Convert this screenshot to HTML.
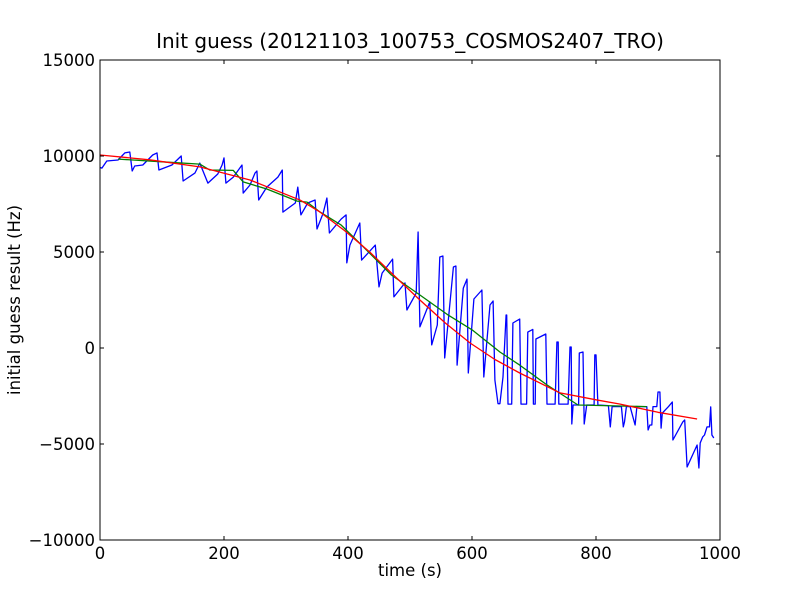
<!DOCTYPE html>
<html><head><meta charset="utf-8"><style>
body{margin:0;background:#fff;}
svg text{font-family:"DejaVu Sans","Liberation Sans",sans-serif;fill:#000;}
</style></head><body>
<svg id="chart" width="800" height="600" xmlns="http://www.w3.org/2000/svg">
<rect width="800" height="600" fill="#fff"/>
<text x="410" y="48" font-size="20" text-anchor="middle">Init guess (20121103_100753_COSMOS2407_TRO)</text>
<text x="410" y="576" font-size="16.5" text-anchor="middle">time (s)</text>
<text x="20" y="300" font-size="16.5" text-anchor="middle" transform="rotate(-90 20 300)">initial guess result (Hz)</text>
<g id="series"></g>
<g id="axes"></g>
</svg>
<script>
const xTicks=[0,200,400,600,800,1000];
const yTicks=[-10000,-5000,0,5000,10000,15000];
const yTickLabels=["\u221210000","\u22125000","0","5000","10000","15000"];
const blueT=[0,3,11,29,40,48,52,56,69,85,92,95,116,131,134,153,161,174,190,197,200,203,215,229,231,242,250,253,256,269,287,294,295,315,319,324,335,347,350,360,366,370,389,397,398,403,419,422,444,450,455,472,474,492,495,510,513,516,532,535,544,548,553,556,570,574,576,586,592,594,603,616,619,629,634,637,642,645,650,655,656,658,664,666,677,679,688,690,698,699,702,703,719,721,734,737,739,740,755,758,760,761,763,772,773,779,781,785,797,798,800,803,820,823,826,841,844,846,849,855,863,866,882,884,887,890,892,898,900,903,905,907,917,923,924,940,943,947,963,966,968,972,975,979,983,985,987,990];
const blueV=[9400,9370,9740,9790,10160,10210,9220,9480,9530,10050,10160,9270,9530,10000,8700,9110,9630,8590,9060,9530,9900,8590,8900,9530,8070,8490,9110,9220,7710,8380,8900,9270,7080,7550,8380,6930,7550,7710,6200,7030,7810,5990,6720,6930,4430,5360,6510,4580,5360,3180,3900,4630,2660,3390,1980,2860,6040,1100,2400,160,1200,4740,4790,-520,4220,4270,-890,3120,3590,-1300,2550,3020,-1510,2240,2450,-1670,-2900,-2900,-1510,1720,1720,-2920,-2920,1300,1510,-2920,-2920,830,970,-2920,-2920,470,730,-2920,-2920,310,310,-2920,-2920,50,50,-3960,-2970,-2970,-260,-210,-3960,-2970,-2970,-360,-360,-2970,-3000,-4110,-3050,-3050,-4110,-3850,-3050,-3050,-4010,-3050,-3050,-4270,-4010,-4010,-3050,-3050,-2290,-2290,-4170,-3390,-3050,-2810,-4790,-3850,-3750,-6200,-5050,-6250,-4950,-4640,-4530,-4110,-4110,-3070,-4530,-4690];
const greenT=[29,100,161,177,215,231,269,318,334,355,389,422,470,516,560,600,645,677,720,771,882];
const greenV=[9840,9700,9580,9270,9250,8650,8280,7650,7600,7080,6400,5360,3800,2760,1750,950,-210,-890,-1900,-2970,-3050];
const redT=[0,80,161,242,323,355,395,435,475,516,557,597,637,677,742,800,839,900,963];
const redV=[10050,9800,9430,8750,7700,7080,6100,5000,3750,2500,1300,260,-600,-1300,-2340,-2700,-2920,-3350,-3700];
const X0=100,X1=720,Y0=540,Y1=60;
function sx(t){return X0+(t-0)/(1000-0)*(X1-X0);}
function sy(v){return Y0-(v+10000)/(25000)*(Y0-Y1);}
const NS="http://www.w3.org/2000/svg";
const sg=document.getElementById('series');
function line(ts,vs,color,name){
  const p=document.createElementNS(NS,'path');
  let d='';
  for(let i=0;i<ts.length;i++){d+=(i?'L':'M')+sx(ts[i]).toFixed(1)+','+sy(vs[i]).toFixed(1);}
  p.setAttribute('d',d);p.setAttribute('fill','none');p.setAttribute('stroke',color);p.setAttribute('stroke-width','1.3');
  p.setAttribute('stroke-linejoin','round');
  
  
  sg.appendChild(p);
}
line(blueT,blueV,'#0000ff','series-blue-raw');
line(greenT,greenV,'#008000','series-green-smoothed');
line(redT,redV,'#ff0000','series-red-fit');
const ag=document.getElementById('axes');
const fr=document.createElementNS(NS,'rect');
fr.setAttribute('x',X0);fr.setAttribute('y',Y1);fr.setAttribute('width',X1-X0);fr.setAttribute('height',Y0-Y1);
fr.setAttribute('fill','none');fr.setAttribute('stroke','#000');fr.setAttribute('stroke-width','1');


ag.appendChild(fr);
function tick(x1,y1,x2,y2){const l=document.createElementNS(NS,'line');l.setAttribute('x1',x1);l.setAttribute('y1',y1);l.setAttribute('x2',x2);l.setAttribute('y2',y2);l.setAttribute('stroke','#000');


ag.appendChild(l);}
xTicks.forEach(t=>{const x=sx(t);tick(x,Y0,x,Y0-4);tick(x,Y1,x,Y1+4);
  const tx=document.createElementNS(NS,'text');tx.setAttribute('x',x);tx.setAttribute('y',Y0+19);tx.setAttribute('font-size','16.5');tx.setAttribute('text-anchor','middle');tx.textContent=t;
  
  
  ag.appendChild(tx);});
yTicks.forEach((v,i)=>{const y=sy(v);tick(X0,y,X0+4,y);tick(X1,y,X1-4,y);
  const tx=document.createElementNS(NS,'text');tx.setAttribute('x',X0-5);tx.setAttribute('y',y+6);tx.setAttribute('font-size','16.5');tx.setAttribute('text-anchor','end');tx.textContent=yTickLabels[i];
  
  
  ag.appendChild(tx);});
</script>
</body></html>
